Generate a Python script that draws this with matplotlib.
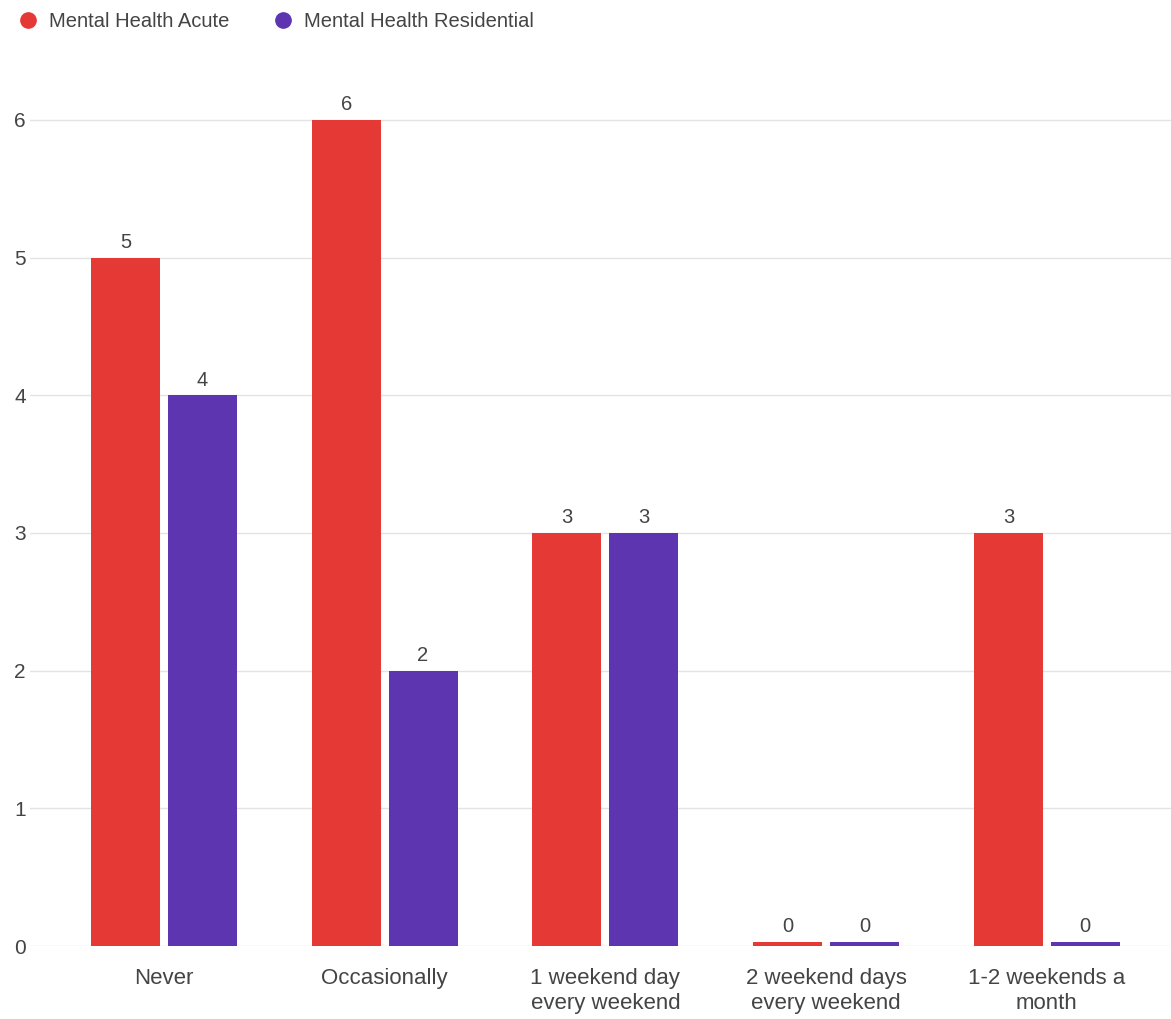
import matplotlib.pyplot as plt
from matplotlib.lines import Line2D
import numpy as np

plt.rcParams["font.family"] = ["Liberation Sans", "DejaVu Sans"]

categories = ["Never", "Occasionally", "1 weekend day\nevery weekend",
              "2 weekend days\nevery weekend", "1-2 weekends a\nmonth"]
acute = [5, 6, 3, 0, 3]
residential = [4, 2, 3, 0, 0]
series_names = ["Mental Health Acute", "Mental Health Residential"]
colors = ["#E53935", "#5E35B1"]
yticks = [0, 1, 2, 3, 4, 5, 6]

W, H = 1171, 1019
fig = plt.figure(figsize=(W / 100, H / 100), dpi=100)
ax = fig.add_axes([30 / W, (H - 946) / H, (W - 30) / W, (946 - 60) / H])

x = np.arange(len(categories))
width = 0.313
offset = 0.174
text_color = "#444444"

for vals, off, col in [(acute, -offset, colors[0]), (residential, offset, colors[1])]:
    heights = [v if v > 0 else 0.03 for v in vals]
    ax.bar(x + off, heights, width, color=col, zorder=3)
    for xi, v, h in zip(x + off, vals, heights):
        ax.text(xi, h + 0.04, str(v), ha="center", va="bottom",
                fontsize=14.5, color=text_color, zorder=4)

ax.set_xlim(-0.607, 4.563)
ax.set_ylim(0, (946 - 60) / 137.67)
ax.set_yticks(yticks)
ax.set_yticklabels([str(t) for t in yticks])
ax.set_xticks(x)
ax.set_xticklabels(categories, fontsize=16, linespacing=1.25)
ax.tick_params(axis="both", length=0, colors=text_color)
ax.tick_params(axis="y", labelsize=15, pad=3)
ax.tick_params(axis="x", pad=16)
ax.grid(axis="y", color="#e3e3e3", linewidth=1, zorder=0)
for s in ax.spines.values():
    s.set_visible(False)

handles = [Line2D([], [], marker="o", linestyle="", markersize=11,
                  markerfacecolor=c, markeredgecolor=c) for c in colors]
fig.legend(handles, series_names, loc="upper left",
           bbox_to_anchor=(-2 / W, 1 + 6 / H), ncol=2, frameon=False,
           fontsize=14.5, handletextpad=0.45, columnspacing=2.05,
           labelcolor=text_color, handlelength=1.2)

fig.savefig("out.png", dpi=100)
